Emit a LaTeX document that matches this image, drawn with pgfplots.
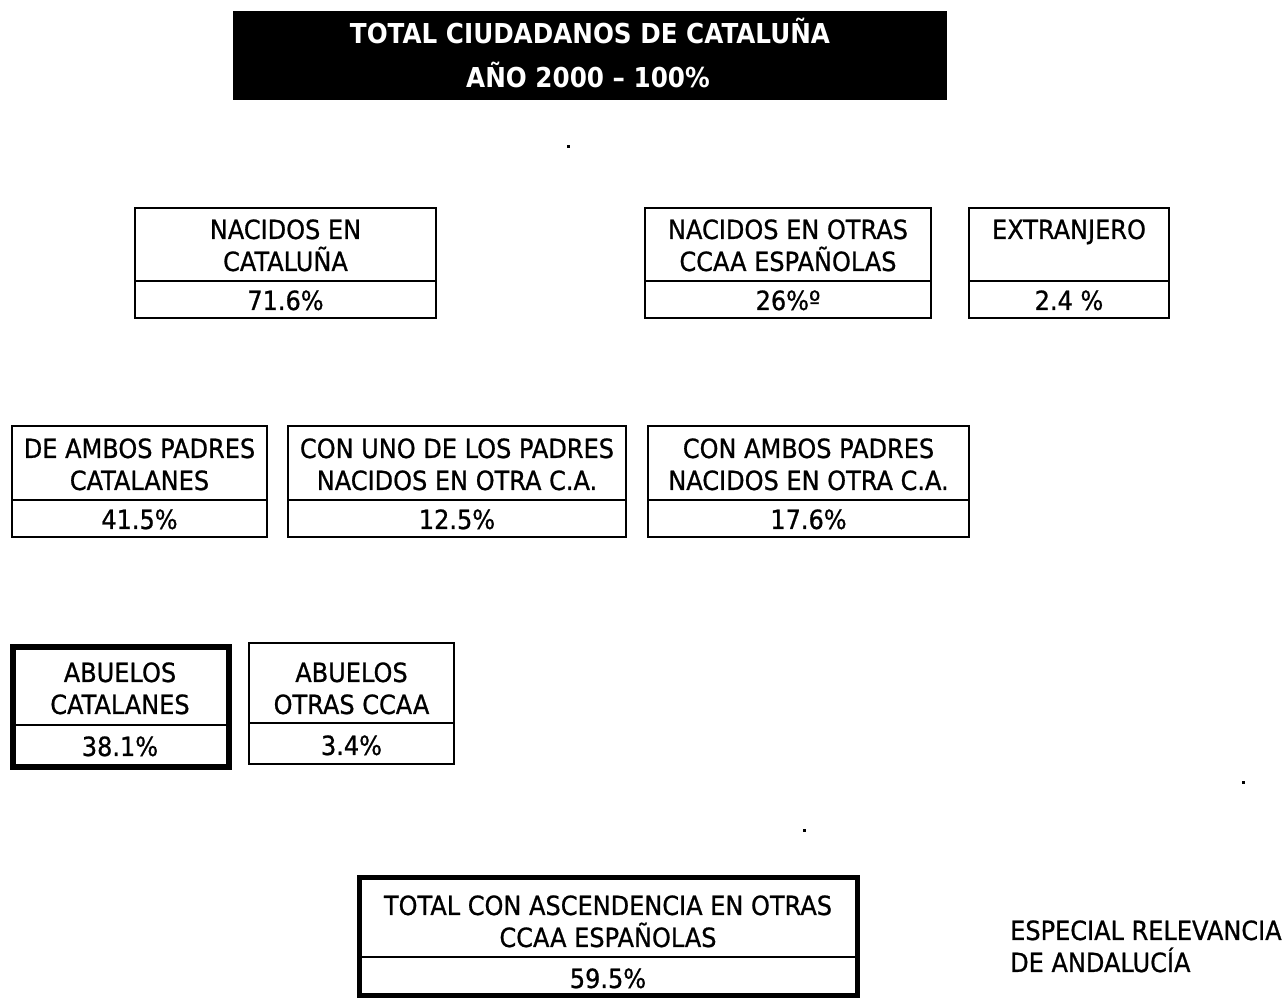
\documentclass[border=0pt]{standalone}
\usepackage{pgfplots}
\pgfplotsset{compat=1.18}
\usepackage{fontspec}
\setmainfont{DejaVu Sans}
\newfontfamily\bodyfont[FakeStretch=0.91, FakeBold=0.8]{DejaVu Sans}
\newfontfamily\titlefont[FakeStretch=0.9]{DejaVu Sans}
\newcommand{\tx}{\bodyfont\fontsize{26.5}{30}\selectfont}
\newcommand{\vx}{\bodyfont\fontsize{26.5}{30}\selectfont}
\newcommand{\ttx}{\titlefont\bfseries\fontsize{27.5}{30}\selectfont}
% box: x1 y1 x2 y2 ydivider linewidth
\newcommand{\ebox}[6]{%
  \draw[line width=#6, fill=white] (axis cs:#1,#2) rectangle (axis cs:#3,#4);
  \draw[line width=1.8bp] (axis cs:#1,#5) -- (axis cs:#3,#5);
}
\begin{document}
\begin{tikzpicture}
\begin{axis}[
  width=1287bp, height=998bp, scale only axis,
  xmin=0, xmax=1287, ymin=0, ymax=998, y dir=reverse,
  hide axis, clip=false]
\coordinate (bl) at (axis cs:0,998);
\coordinate (tr) at (axis cs:1287,0);
% title
\fill[black] (axis cs:233,11) rectangle (axis cs:947,100);
\node[anchor=base, text=white, font=\ttx] at (axis cs:590,44) {TOTAL CIUDADANOS DE CATALUÑA};
\node[anchor=base, text=white, font=\ttx] at (axis cs:588,88) {AÑO 2000 – 100\%};
% row 1
\ebox{135}{208}{436}{318}{281}{1.7bp}
\node[anchor=base, font=\tx] at (axis cs:285.5,239) {NACIDOS EN};
\node[anchor=base, font=\tx] at (axis cs:285.5,271) {CATALUÑA};
\node[anchor=base, font=\vx] at (axis cs:285.5,310) {71.6\%};
\ebox{645}{208}{931}{318}{281}{1.7bp}
\node[anchor=base, font=\tx] at (axis cs:788,239) {NACIDOS EN OTRAS};
\node[anchor=base, font=\tx] at (axis cs:788,271) {CCAA ESPAÑOLAS};
\node[anchor=base, font=\vx] at (axis cs:788,310) {26\%º};
\ebox{969}{208}{1169}{318}{281}{1.7bp}
\node[anchor=base, font=\tx] at (axis cs:1069,239) {EXTRANJERO};
\node[anchor=base, font=\vx] at (axis cs:1069,310) {2.4 \%};
% row 2
\ebox{12}{426}{267}{537}{500}{1.7bp}
\node[anchor=base, font=\tx] at (axis cs:139.5,458) {DE AMBOS PADRES};
\node[anchor=base, font=\tx] at (axis cs:139.5,490) {CATALANES};
\node[anchor=base, font=\vx] at (axis cs:139.5,529) {41.5\%};
\ebox{288}{426}{626}{537}{500}{1.7bp}
\node[anchor=base, font=\tx] at (axis cs:457,458) {CON UNO DE LOS PADRES};
\node[anchor=base, font=\tx] at (axis cs:457,490) {NACIDOS EN OTRA C.A.};
\node[anchor=base, font=\vx] at (axis cs:457,529) {12.5\%};
\ebox{648}{426}{969}{537}{500}{1.7bp}
\node[anchor=base, font=\tx] at (axis cs:808.5,458) {CON AMBOS PADRES};
\node[anchor=base, font=\tx] at (axis cs:808.5,490) {NACIDOS EN OTRA C.A.};
\node[anchor=base, font=\vx] at (axis cs:808.5,529) {17.6\%};
% row 3
\ebox{12.5}{647.5}{228.5}{767.5}{725}{6bp}
\node[anchor=base, font=\tx] at (axis cs:120,682) {ABUELOS};
\node[anchor=base, font=\tx] at (axis cs:120,714) {CATALANES};
\node[anchor=base, font=\vx] at (axis cs:120,756) {38.1\%};
\ebox{249}{643}{454}{764}{723}{1.7bp}
\node[anchor=base, font=\tx] at (axis cs:351.5,682) {ABUELOS};
\node[anchor=base, font=\tx] at (axis cs:351.5,714) {OTRAS CCAA};
\node[anchor=base, font=\vx] at (axis cs:351.5,755) {3.4\%};
% row 4
\ebox{359}{878}{857}{996}{957}{5bp}
\node[anchor=base, font=\tx] at (axis cs:608,915) {TOTAL CON ASCENDENCIA EN OTRAS};
\node[anchor=base, font=\tx] at (axis cs:608,947) {CCAA ESPAÑOLAS};
\node[anchor=base, font=\vx] at (axis cs:608,988) {59.5\%};
\node[anchor=base west, font=\tx, inner sep=0pt] at (axis cs:1010,940) {ESPECIAL RELEVANCIA};
\node[anchor=base west, font=\tx, inner sep=0pt] at (axis cs:1010,972) {DE ANDALUCÍA};
% stray specks
\addplot[only marks, mark=square*, mark size=1bp, black] coordinates {(568,146) (804,830) (1243,782)};
\end{axis}
\pgfresetboundingbox
\path (bl) rectangle (tr);
\end{tikzpicture}
\end{document}
